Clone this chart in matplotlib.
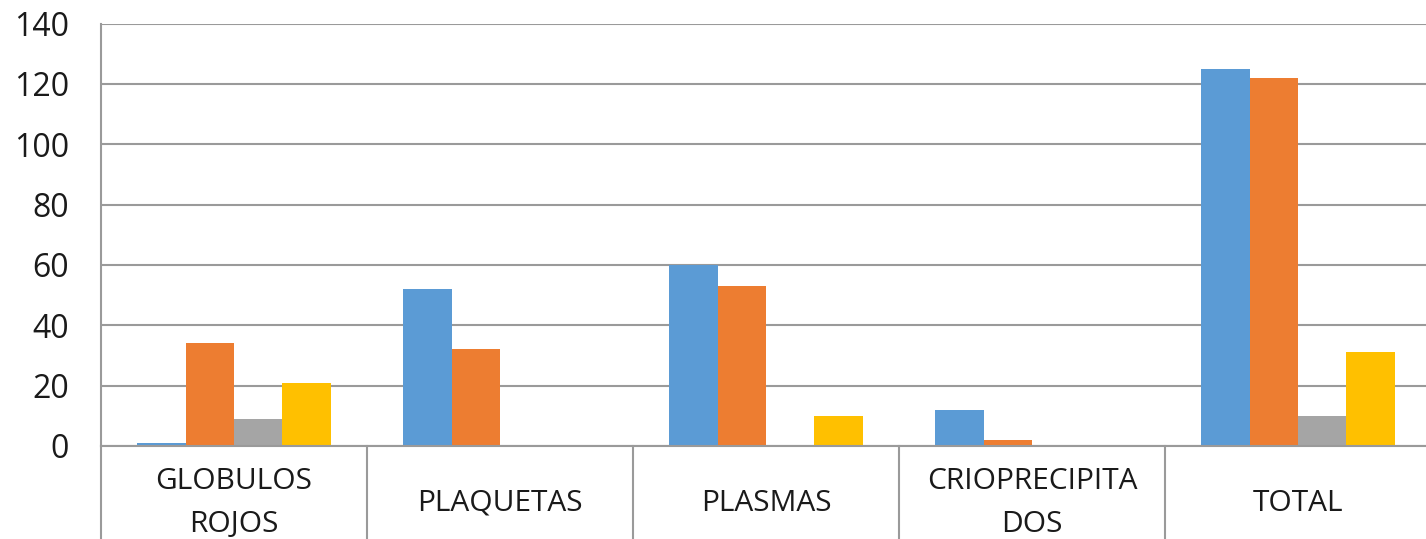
import matplotlib.pyplot as plt
import numpy as np

plt.rcParams['font.family'] = ['Open Sans', 'DejaVu Sans']

# datos
categorias = ['GLOBULOS\nROJOS', 'PLAQUETAS', 'PLASMAS', 'CRIOPRECIPITA\nDOS', 'TOTAL']
serie_azul = [1, 52, 60, 12, 125]
serie_naranja = [34, 32, 53, 2, 122]
serie_gris = [9, 0, 0, 0, 10]
serie_amarilla = [21, 0, 10, 0, 31]
ticks_y = [0, 20, 40, 60, 80, 100, 120, 140]

series = [serie_azul, serie_naranja, serie_gris, serie_amarilla]
colores = ['#5B9BD5', '#ED7D31', '#A5A5A5', '#FFC000']

fig = plt.figure(figsize=(14.26, 5.39), dpi=100)
# el area del grafico se sale un poco por la derecha, como en la imagen original
ax = fig.add_axes([101 / 1426, 93 / 539, 1330 / 1426, 422.5 / 539])

x = np.arange(len(categorias))
ancho = 0.182
for i, (valores, color) in enumerate(zip(series, colores)):
    ax.bar(x + (i - 1.5) * ancho, valores, width=ancho, color=color, zorder=2)

ax.set_xlim(-0.5, len(categorias) - 0.5)
ax.set_ylim(0, 140)
ax.set_yticks(ticks_y)
ax.yaxis.grid(True, color='#9a9a9a', linewidth=1.5, zorder=0)
ax.set_axisbelow(True)
ax.tick_params(axis='y', length=0, pad=23, labelsize=23, labelcolor='#1a1a1a')
ax.set_xticks([])

for lado in ['top', 'right']:
    ax.spines[lado].set_visible(False)
for lado in ['left', 'bottom']:
    ax.spines[lado].set_color('#9a9a9a')
    ax.spines[lado].set_linewidth(1.5)

# separadores entre categorias y etiquetas (estilo Excel)
trans = ax.get_xaxis_transform()
for b in np.arange(len(categorias) + 1) - 0.5:
    ax.plot([b, b], [0, -0.3], transform=trans, color='#9a9a9a', linewidth=1.5, clip_on=False)
for xi, etiqueta in zip(x, categorias):
    ax.text(xi, -0.135, etiqueta, transform=trans, ha='center', va='center',
            fontsize=21.5, color='#1a1a1a', linespacing=1.62)

fig.savefig('out.png', dpi=100)
